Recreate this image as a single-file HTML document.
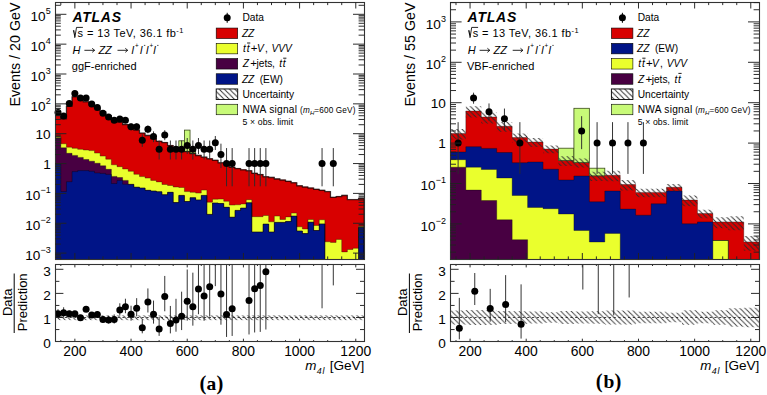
<!DOCTYPE html><html><head><meta charset="utf-8"><style>html,body{margin:0;padding:0;background:#fff;overflow:hidden}svg{display:block}text{font-family:"Liberation Sans", sans-serif;fill:#000}</style></head><body>
<svg width="767" height="395" viewBox="0 0 767 395">
<defs><pattern id="hatch" patternUnits="userSpaceOnUse" width="5.2" height="5.2"><path d="M-1.3,-1.3 L6.5,6.5 M-1.3,3.9 L1.3,6.5 M3.9,-1.3 L6.5,1.3" stroke="#2a2a2a" stroke-width="0.95"/></pattern><pattern id="hatchr" patternUnits="userSpaceOnUse" width="5.2" height="5.2"><path d="M-1.3,-1.3 L6.5,6.5 M-1.3,3.9 L1.3,6.5 M3.9,-1.3 L6.5,1.3" stroke="#383838" stroke-width="0.9"/></pattern></defs>
<rect width="767" height="395" fill="#fff"/>
<clipPath id="c55"><rect x="55.20" y="2.20" width="309.00" height="257.10"/></clipPath>
<clipPath id="c55r"><rect x="55.20" y="264.60" width="309.00" height="76.90"/></clipPath>
<g clip-path="url(#c55)">
<path d="M55.20,259.30 L55.20,114.80 L60.82,114.80 L60.82,118.50 L66.44,118.50 L66.44,106.00 L72.05,106.00 L72.05,96.50 L77.67,96.50 L77.67,98.50 L83.29,98.50 L83.29,101.50 L88.91,101.50 L88.91,104.50 L94.53,104.50 L94.53,108.00 L100.15,108.00 L100.15,111.50 L105.76,111.50 L105.76,115.50 L111.38,115.50 L111.38,118.80 L117.00,118.80 L117.00,121.80 L122.62,121.80 L122.62,124.30 L128.24,124.30 L128.24,127.00 L133.85,127.00 L133.85,129.80 L139.47,129.80 L139.47,132.90 L145.09,132.90 L145.09,135.20 L150.71,135.20 L150.71,138.20 L156.33,138.20 L156.33,141.00 L161.95,141.00 L161.95,142.30 L167.56,142.30 L167.56,145.30 L173.18,145.30 L173.18,147.20 L178.80,147.20 L178.80,149.00 L184.42,149.00 L184.42,151.30 L190.04,151.30 L190.04,153.40 L195.65,153.40 L195.65,155.20 L201.27,155.20 L201.27,156.90 L206.89,156.90 L206.89,158.50 L212.51,158.50 L212.51,160.00 L218.13,160.00 L218.13,162.60 L223.75,162.60 L223.75,164.20 L229.36,164.20 L229.36,167.00 L234.98,167.00 L234.98,168.30 L240.60,168.30 L240.60,169.60 L246.22,169.60 L246.22,170.50 L251.84,170.50 L251.84,173.00 L257.45,173.00 L257.45,174.30 L263.07,174.30 L263.07,176.50 L268.69,176.50 L268.69,177.20 L274.31,177.20 L274.31,178.70 L279.93,178.70 L279.93,179.80 L285.55,179.80 L285.55,181.00 L291.16,181.00 L291.16,182.50 L296.78,182.50 L296.78,185.60 L302.40,185.60 L302.40,186.80 L308.02,186.80 L308.02,187.80 L313.64,187.80 L313.64,189.00 L319.25,189.00 L319.25,190.00 L324.87,190.00 L324.87,191.40 L330.49,191.40 L330.49,197.10 L336.11,197.10 L336.11,196.30 L341.73,196.30 L341.73,195.20 L347.35,195.20 L347.35,199.40 L352.96,199.40 L352.96,199.40 L358.58,199.40 L358.58,198.20 L364.20,198.20 L364.20,259.30 Z" fill="#d80000"/>
<path d="M55.20,259.30 L55.20,136.30 L60.82,136.30 L60.82,143.80 L66.44,143.80 L66.44,147.20 L72.05,147.20 L72.05,148.30 L77.67,148.30 L77.67,149.30 L83.29,149.30 L83.29,150.00 L88.91,150.00 L88.91,150.60 L94.53,150.60 L94.53,153.10 L100.15,153.10 L100.15,156.10 L105.76,156.10 L105.76,159.20 L111.38,159.20 L111.38,164.80 L117.00,164.80 L117.00,166.70 L122.62,166.70 L122.62,169.00 L128.24,169.00 L128.24,171.30 L133.85,171.30 L133.85,174.30 L139.47,174.30 L139.47,176.60 L145.09,176.60 L145.09,178.10 L150.71,178.10 L150.71,180.40 L156.33,180.40 L156.33,181.90 L161.95,181.90 L161.95,184.50 L167.56,184.50 L167.56,185.50 L173.18,185.50 L173.18,187.00 L178.80,187.00 L178.80,187.50 L184.42,187.50 L184.42,191.60 L190.04,191.60 L190.04,192.30 L195.65,192.30 L195.65,193.10 L201.27,193.10 L201.27,190.10 L206.89,190.10 L206.89,202.20 L212.51,202.20 L212.51,199.20 L218.13,199.20 L218.13,199.10 L223.75,199.10 L223.75,201.30 L229.36,201.30 L229.36,205.10 L234.98,205.10 L234.98,204.80 L240.60,204.80 L240.60,204.00 L246.22,204.00 L246.22,199.70 L251.84,199.70 L251.84,216.70 L257.45,216.70 L257.45,216.70 L263.07,216.70 L263.07,215.50 L268.69,215.50 L268.69,221.80 L274.31,221.80 L274.31,216.10 L279.93,216.10 L279.93,219.50 L285.55,219.50 L285.55,216.90 L291.16,216.90 L291.16,213.10 L296.78,213.10 L296.78,226.80 L302.40,226.80 L302.40,229.00 L308.02,229.00 L308.02,219.50 L313.64,219.50 L313.64,225.50 L319.25,225.50 L319.25,219.80 L324.87,219.80 L324.87,241.80 L330.49,241.80 L330.49,242.40 L336.11,242.40 L336.11,239.40 L341.73,239.40 L341.73,251.90 L347.35,251.90 L347.35,249.50 L352.96,249.50 L352.96,248.30 L358.58,248.30 L358.58,226.30 L364.20,226.30 L364.20,259.30 Z" fill="#eaff2d"/>
<path d="M55.20,259.30 L55.20,137.70 L60.82,137.70 L60.82,147.80 L66.44,147.80 L66.44,153.30 L72.05,153.30 L72.05,155.40 L77.67,155.40 L77.67,157.40 L83.29,157.40 L83.29,159.50 L88.91,159.50 L88.91,161.20 L94.53,161.20 L94.53,163.20 L100.15,163.20 L100.15,165.80 L105.76,165.80 L105.76,169.30 L111.38,169.30 L111.38,176.40 L117.00,176.40 L117.00,177.50 L122.62,177.50 L122.62,180.40 L128.24,180.40 L128.24,184.20 L133.85,184.20 L133.85,187.20 L139.47,187.20 L139.47,188.00 L145.09,188.00 L145.09,190.30 L150.71,190.30 L150.71,191.00 L156.33,191.00 L156.33,191.80 L161.95,191.80 L161.95,194.70 L167.56,194.70 L167.56,192.30 L173.18,192.30 L173.18,202.60 L178.80,202.60 L178.80,195.40 L184.42,195.40 L184.42,201.50 L190.04,201.50 L190.04,197.70 L195.65,197.70 L195.65,199.90 L201.27,199.90 L201.27,195.40 L206.89,195.40 L206.89,214.40 L212.51,214.40 L212.51,203.00 L218.13,203.00 L218.13,203.50 L223.75,203.50 L223.75,207.30 L229.36,207.30 L229.36,217.20 L234.98,217.20 L234.98,210.40 L240.60,210.40 L240.60,208.10 L246.22,208.10 L246.22,202.80 L251.84,202.80 L251.84,232.00 L257.45,232.00 L257.45,232.00 L263.07,232.00 L263.07,224.10 L268.69,224.10 L268.69,232.00 L274.31,232.00 L274.31,222.40 L279.93,222.40 L279.93,222.40 L285.55,222.40 L285.55,221.50 L291.16,221.50 L291.16,216.10 L296.78,216.10 L296.78,231.00 L302.40,231.00 L302.40,233.60 L308.02,233.60 L308.02,222.20 L313.64,222.20 L313.64,230.50 L319.25,230.50 L319.25,223.90 L324.87,223.90 L324.87,259.30 L330.49,259.30 L330.49,259.30 L336.11,259.30 L336.11,259.30 L341.73,259.30 L341.73,259.30 L347.35,259.30 L347.35,259.30 L352.96,259.30 L352.96,259.30 L358.58,259.30 L358.58,227.50 L364.20,227.50 L364.20,259.30 Z" fill="#480042"/>
<path d="M55.20,259.30 L55.20,164.00 L60.82,164.00 L60.82,191.50 L66.44,191.50 L66.44,181.70 L72.05,181.70 L72.05,171.60 L77.67,171.60 L77.67,170.60 L83.29,170.60 L83.29,170.60 L88.91,170.60 L88.91,171.30 L94.53,171.30 L94.53,172.90 L100.15,172.90 L100.15,173.40 L105.76,173.40 L105.76,174.40 L111.38,174.40 L111.38,183.50 L117.00,183.50 L117.00,180.40 L122.62,180.40 L122.62,184.20 L128.24,184.20 L128.24,184.60 L133.85,184.60 L133.85,187.20 L139.47,187.20 L139.47,188.00 L145.09,188.00 L145.09,190.30 L150.71,190.30 L150.71,191.00 L156.33,191.00 L156.33,191.80 L161.95,191.80 L161.95,194.70 L167.56,194.70 L167.56,192.30 L173.18,192.30 L173.18,202.60 L178.80,202.60 L178.80,195.40 L184.42,195.40 L184.42,201.50 L190.04,201.50 L190.04,197.70 L195.65,197.70 L195.65,199.90 L201.27,199.90 L201.27,195.40 L206.89,195.40 L206.89,214.40 L212.51,214.40 L212.51,203.00 L218.13,203.00 L218.13,203.50 L223.75,203.50 L223.75,207.30 L229.36,207.30 L229.36,217.20 L234.98,217.20 L234.98,210.40 L240.60,210.40 L240.60,208.10 L246.22,208.10 L246.22,202.80 L251.84,202.80 L251.84,232.00 L257.45,232.00 L257.45,232.00 L263.07,232.00 L263.07,224.10 L268.69,224.10 L268.69,232.00 L274.31,232.00 L274.31,222.40 L279.93,222.40 L279.93,222.40 L285.55,222.40 L285.55,221.50 L291.16,221.50 L291.16,216.10 L296.78,216.10 L296.78,231.00 L302.40,231.00 L302.40,233.60 L308.02,233.60 L308.02,222.20 L313.64,222.20 L313.64,230.50 L319.25,230.50 L319.25,223.90 L324.87,223.90 L324.87,259.30 L330.49,259.30 L330.49,259.30 L336.11,259.30 L336.11,259.30 L341.73,259.30 L341.73,259.30 L347.35,259.30 L347.35,259.30 L352.96,259.30 L352.96,259.30 L358.58,259.30 L358.58,227.50 L364.20,227.50 L364.20,259.30 Z" fill="#001487"/>
<path d="M55.20,262.30 L55.20,114.80 L60.82,114.80 L60.82,118.50 L66.44,118.50 L66.44,106.00 L72.05,106.00 L72.05,96.50 L77.67,96.50 L77.67,98.50 L83.29,98.50 L83.29,101.50 L88.91,101.50 L88.91,104.50 L94.53,104.50 L94.53,108.00 L100.15,108.00 L100.15,111.50 L105.76,111.50 L105.76,115.50 L111.38,115.50 L111.38,118.80 L117.00,118.80 L117.00,121.80 L122.62,121.80 L122.62,124.30 L128.24,124.30 L128.24,127.00 L133.85,127.00 L133.85,129.80 L139.47,129.80 L139.47,132.90 L145.09,132.90 L145.09,135.20 L150.71,135.20 L150.71,138.20 L156.33,138.20 L156.33,141.00 L161.95,141.00 L161.95,142.30 L167.56,142.30 L167.56,145.30 L173.18,145.30 L173.18,147.20 L178.80,147.20 L178.80,149.00 L184.42,149.00 L184.42,151.30 L190.04,151.30 L190.04,153.40 L195.65,153.40 L195.65,155.20 L201.27,155.20 L201.27,156.90 L206.89,156.90 L206.89,158.50 L212.51,158.50 L212.51,160.00 L218.13,160.00 L218.13,162.60 L223.75,162.60 L223.75,164.20 L229.36,164.20 L229.36,167.00 L234.98,167.00 L234.98,168.30 L240.60,168.30 L240.60,169.60 L246.22,169.60 L246.22,170.50 L251.84,170.50 L251.84,173.00 L257.45,173.00 L257.45,174.30 L263.07,174.30 L263.07,176.50 L268.69,176.50 L268.69,177.20 L274.31,177.20 L274.31,178.70 L279.93,178.70 L279.93,179.80 L285.55,179.80 L285.55,181.00 L291.16,181.00 L291.16,182.50 L296.78,182.50 L296.78,185.60 L302.40,185.60 L302.40,186.80 L308.02,186.80 L308.02,187.80 L313.64,187.80 L313.64,189.00 L319.25,189.00 L319.25,190.00 L324.87,190.00 L324.87,191.40 L330.49,191.40 L330.49,197.10 L336.11,197.10 L336.11,196.30 L341.73,196.30 L341.73,195.20 L347.35,195.20 L347.35,199.40 L352.96,199.40 L352.96,199.40 L358.58,199.40 L358.58,198.20 L364.20,198.20 L364.20,262.30" fill="none" stroke="#000" stroke-width="0.60" stroke-opacity="0.55"/>
<path d="M55.20,262.30 L55.20,136.30 L60.82,136.30 L60.82,143.80 L66.44,143.80 L66.44,147.20 L72.05,147.20 L72.05,148.30 L77.67,148.30 L77.67,149.30 L83.29,149.30 L83.29,150.00 L88.91,150.00 L88.91,150.60 L94.53,150.60 L94.53,153.10 L100.15,153.10 L100.15,156.10 L105.76,156.10 L105.76,159.20 L111.38,159.20 L111.38,164.80 L117.00,164.80 L117.00,166.70 L122.62,166.70 L122.62,169.00 L128.24,169.00 L128.24,171.30 L133.85,171.30 L133.85,174.30 L139.47,174.30 L139.47,176.60 L145.09,176.60 L145.09,178.10 L150.71,178.10 L150.71,180.40 L156.33,180.40 L156.33,181.90 L161.95,181.90 L161.95,184.50 L167.56,184.50 L167.56,185.50 L173.18,185.50 L173.18,187.00 L178.80,187.00 L178.80,187.50 L184.42,187.50 L184.42,191.60 L190.04,191.60 L190.04,192.30 L195.65,192.30 L195.65,193.10 L201.27,193.10 L201.27,190.10 L206.89,190.10 L206.89,202.20 L212.51,202.20 L212.51,199.20 L218.13,199.20 L218.13,199.10 L223.75,199.10 L223.75,201.30 L229.36,201.30 L229.36,205.10 L234.98,205.10 L234.98,204.80 L240.60,204.80 L240.60,204.00 L246.22,204.00 L246.22,199.70 L251.84,199.70 L251.84,216.70 L257.45,216.70 L257.45,216.70 L263.07,216.70 L263.07,215.50 L268.69,215.50 L268.69,221.80 L274.31,221.80 L274.31,216.10 L279.93,216.10 L279.93,219.50 L285.55,219.50 L285.55,216.90 L291.16,216.90 L291.16,213.10 L296.78,213.10 L296.78,226.80 L302.40,226.80 L302.40,229.00 L308.02,229.00 L308.02,219.50 L313.64,219.50 L313.64,225.50 L319.25,225.50 L319.25,219.80 L324.87,219.80 L324.87,241.80 L330.49,241.80 L330.49,242.40 L336.11,242.40 L336.11,239.40 L341.73,239.40 L341.73,251.90 L347.35,251.90 L347.35,249.50 L352.96,249.50 L352.96,248.30 L358.58,248.30 L358.58,226.30 L364.20,226.30 L364.20,262.30" fill="none" stroke="#000" stroke-width="0.60" stroke-opacity="0.55"/>
<path d="M55.20,262.30 L55.20,137.70 L60.82,137.70 L60.82,147.80 L66.44,147.80 L66.44,153.30 L72.05,153.30 L72.05,155.40 L77.67,155.40 L77.67,157.40 L83.29,157.40 L83.29,159.50 L88.91,159.50 L88.91,161.20 L94.53,161.20 L94.53,163.20 L100.15,163.20 L100.15,165.80 L105.76,165.80 L105.76,169.30 L111.38,169.30 L111.38,176.40 L117.00,176.40 L117.00,177.50 L122.62,177.50 L122.62,180.40 L128.24,180.40 L128.24,184.20 L133.85,184.20 L133.85,187.20 L139.47,187.20 L139.47,188.00 L145.09,188.00 L145.09,190.30 L150.71,190.30 L150.71,191.00 L156.33,191.00 L156.33,191.80 L161.95,191.80 L161.95,194.70 L167.56,194.70 L167.56,192.30 L173.18,192.30 L173.18,202.60 L178.80,202.60 L178.80,195.40 L184.42,195.40 L184.42,201.50 L190.04,201.50 L190.04,197.70 L195.65,197.70 L195.65,199.90 L201.27,199.90 L201.27,195.40 L206.89,195.40 L206.89,214.40 L212.51,214.40 L212.51,203.00 L218.13,203.00 L218.13,203.50 L223.75,203.50 L223.75,207.30 L229.36,207.30 L229.36,217.20 L234.98,217.20 L234.98,210.40 L240.60,210.40 L240.60,208.10 L246.22,208.10 L246.22,202.80 L251.84,202.80 L251.84,232.00 L257.45,232.00 L257.45,232.00 L263.07,232.00 L263.07,224.10 L268.69,224.10 L268.69,232.00 L274.31,232.00 L274.31,222.40 L279.93,222.40 L279.93,222.40 L285.55,222.40 L285.55,221.50 L291.16,221.50 L291.16,216.10 L296.78,216.10 L296.78,231.00 L302.40,231.00 L302.40,233.60 L308.02,233.60 L308.02,222.20 L313.64,222.20 L313.64,230.50 L319.25,230.50 L319.25,223.90 L324.87,223.90 L324.87,262.30 L330.49,262.30 L330.49,262.30 L336.11,262.30 L336.11,262.30 L341.73,262.30 L341.73,262.30 L347.35,262.30 L347.35,262.30 L352.96,262.30 L352.96,262.30 L358.58,262.30 L358.58,227.50 L364.20,227.50 L364.20,262.30" fill="none" stroke="#000" stroke-width="0.60" stroke-opacity="0.55"/>
<path d="M55.20,262.30 L55.20,164.00 L60.82,164.00 L60.82,191.50 L66.44,191.50 L66.44,181.70 L72.05,181.70 L72.05,171.60 L77.67,171.60 L77.67,170.60 L83.29,170.60 L83.29,170.60 L88.91,170.60 L88.91,171.30 L94.53,171.30 L94.53,172.90 L100.15,172.90 L100.15,173.40 L105.76,173.40 L105.76,174.40 L111.38,174.40 L111.38,183.50 L117.00,183.50 L117.00,180.40 L122.62,180.40 L122.62,184.20 L128.24,184.20 L128.24,184.60 L133.85,184.60 L133.85,187.20 L139.47,187.20 L139.47,188.00 L145.09,188.00 L145.09,190.30 L150.71,190.30 L150.71,191.00 L156.33,191.00 L156.33,191.80 L161.95,191.80 L161.95,194.70 L167.56,194.70 L167.56,192.30 L173.18,192.30 L173.18,202.60 L178.80,202.60 L178.80,195.40 L184.42,195.40 L184.42,201.50 L190.04,201.50 L190.04,197.70 L195.65,197.70 L195.65,199.90 L201.27,199.90 L201.27,195.40 L206.89,195.40 L206.89,214.40 L212.51,214.40 L212.51,203.00 L218.13,203.00 L218.13,203.50 L223.75,203.50 L223.75,207.30 L229.36,207.30 L229.36,217.20 L234.98,217.20 L234.98,210.40 L240.60,210.40 L240.60,208.10 L246.22,208.10 L246.22,202.80 L251.84,202.80 L251.84,232.00 L257.45,232.00 L257.45,232.00 L263.07,232.00 L263.07,224.10 L268.69,224.10 L268.69,232.00 L274.31,232.00 L274.31,222.40 L279.93,222.40 L279.93,222.40 L285.55,222.40 L285.55,221.50 L291.16,221.50 L291.16,216.10 L296.78,216.10 L296.78,231.00 L302.40,231.00 L302.40,233.60 L308.02,233.60 L308.02,222.20 L313.64,222.20 L313.64,230.50 L319.25,230.50 L319.25,223.90 L324.87,223.90 L324.87,262.30 L330.49,262.30 L330.49,262.30 L336.11,262.30 L336.11,262.30 L341.73,262.30 L341.73,262.30 L347.35,262.30 L347.35,262.30 L352.96,262.30 L352.96,262.30 L358.58,262.30 L358.58,227.50 L364.20,227.50 L364.20,262.30" fill="none" stroke="#000" stroke-width="0.60" stroke-opacity="0.55"/>
<rect x="178.80" y="140.80" width="5.62" height="8.20" fill="#c8fa78" stroke="#3a4a1a" stroke-width="0.8"/>
<rect x="184.42" y="130.10" width="5.62" height="21.20" fill="#c8fa78" stroke="#3a4a1a" stroke-width="0.8"/>
<rect x="190.04" y="149.40" width="5.62" height="4.00" fill="#c8fa78" stroke="#3a4a1a" stroke-width="0.8"/>
<path d="M55.20,262.30 L55.20,115.10 L60.82,115.10 L60.82,118.80 L66.44,118.80 L66.44,106.30 L72.05,106.30 L72.05,96.80 L77.67,96.80 L77.67,98.80 L83.29,98.80 L83.29,101.80 L88.91,101.80 L88.91,104.80 L94.53,104.80 L94.53,108.30 L100.15,108.30 L100.15,111.80 L105.76,111.80 L105.76,115.80 L111.38,115.80 L111.38,119.10 L117.00,119.10 L117.00,122.10 L122.62,122.10 L122.62,124.60 L128.24,124.60 L128.24,127.30 L133.85,127.30 L133.85,130.10 L139.47,130.10 L139.47,133.20 L145.09,133.20 L145.09,135.50 L150.71,135.50 L150.71,138.50 L156.33,138.50 L156.33,141.30 L161.95,141.30 L161.95,142.60 L167.56,142.60 L167.56,145.60 L173.18,145.60 L173.18,147.50 L178.80,147.50 L178.80,149.30 L184.42,149.30 L184.42,151.60 L190.04,151.60 L190.04,153.70 L195.65,153.70 L195.65,155.50 L201.27,155.50 L201.27,157.20 L206.89,157.20 L206.89,158.80 L212.51,158.80 L212.51,160.30 L218.13,160.30 L218.13,162.90 L223.75,162.90 L223.75,164.50 L229.36,164.50 L229.36,167.30 L234.98,167.30 L234.98,168.60 L240.60,168.60 L240.60,169.90 L246.22,169.90 L246.22,170.80 L251.84,170.80 L251.84,173.30 L257.45,173.30 L257.45,174.60 L263.07,174.60 L263.07,176.80 L268.69,176.80 L268.69,177.50 L274.31,177.50 L274.31,179.00 L279.93,179.00 L279.93,180.10 L285.55,180.10 L285.55,181.30 L291.16,181.30 L291.16,182.80 L296.78,182.80 L296.78,185.90 L302.40,185.90 L302.40,187.10 L308.02,187.10 L308.02,188.10 L313.64,188.10 L313.64,189.30 L319.25,189.30 L319.25,190.30 L324.87,190.30 L324.87,191.70 L330.49,191.70 L330.49,197.40 L336.11,197.40 L336.11,196.60 L341.73,196.60 L341.73,195.50 L347.35,195.50 L347.35,199.70 L352.96,199.70 L352.96,199.70 L358.58,199.70 L358.58,198.50 L364.20,198.50 L364.20,262.30" fill="none" stroke="#000" stroke-width="1.3" stroke-opacity="0.6"/>
</g>
<line x1="58.01" y1="110.65" x2="58.01" y2="114.53" stroke="#2a2a2a" stroke-width="0.95"/>
<circle cx="58.01" cy="112.58" r="3.5" fill="#000"/>
<line x1="63.63" y1="113.83" x2="63.63" y2="118.31" stroke="#2a2a2a" stroke-width="0.95"/>
<circle cx="63.63" cy="116.06" r="3.5" fill="#000"/>
<line x1="69.25" y1="102.13" x2="69.25" y2="104.81" stroke="#2a2a2a" stroke-width="0.95"/>
<circle cx="69.25" cy="103.47" r="3.5" fill="#000"/>
<line x1="74.86" y1="92.50" x2="74.86" y2="94.29" stroke="#2a2a2a" stroke-width="0.95"/>
<circle cx="74.86" cy="93.40" r="3.5" fill="#000"/>
<line x1="80.48" y1="96.85" x2="80.48" y2="98.99" stroke="#2a2a2a" stroke-width="0.95"/>
<circle cx="80.48" cy="97.92" r="3.5" fill="#000"/>
<line x1="86.10" y1="96.85" x2="86.10" y2="98.99" stroke="#2a2a2a" stroke-width="0.95"/>
<circle cx="86.10" cy="97.92" r="3.5" fill="#000"/>
<line x1="91.72" y1="102.74" x2="91.72" y2="105.49" stroke="#2a2a2a" stroke-width="0.95"/>
<circle cx="91.72" cy="104.11" r="3.5" fill="#000"/>
<line x1="97.34" y1="106.00" x2="97.34" y2="109.17" stroke="#2a2a2a" stroke-width="0.95"/>
<circle cx="97.34" cy="107.58" r="3.5" fill="#000"/>
<line x1="102.95" y1="111.37" x2="102.95" y2="115.38" stroke="#2a2a2a" stroke-width="0.95"/>
<circle cx="102.95" cy="113.36" r="3.5" fill="#000"/>
<line x1="108.57" y1="114.77" x2="108.57" y2="119.45" stroke="#2a2a2a" stroke-width="0.95"/>
<circle cx="108.57" cy="117.09" r="3.5" fill="#000"/>
<line x1="114.19" y1="117.70" x2="114.19" y2="123.05" stroke="#2a2a2a" stroke-width="0.95"/>
<circle cx="114.19" cy="120.35" r="3.5" fill="#000"/>
<line x1="119.81" y1="116.52" x2="119.81" y2="121.58" stroke="#2a2a2a" stroke-width="0.95"/>
<circle cx="119.81" cy="119.03" r="3.5" fill="#000"/>
<line x1="125.43" y1="117.70" x2="125.43" y2="123.05" stroke="#2a2a2a" stroke-width="0.95"/>
<circle cx="125.43" cy="120.35" r="3.5" fill="#000"/>
<line x1="131.05" y1="123.36" x2="131.05" y2="130.38" stroke="#2a2a2a" stroke-width="0.95"/>
<circle cx="131.05" cy="126.82" r="3.5" fill="#000"/>
<line x1="136.66" y1="123.36" x2="136.66" y2="130.38" stroke="#2a2a2a" stroke-width="0.95"/>
<circle cx="136.66" cy="126.82" r="3.5" fill="#000"/>
<line x1="142.28" y1="134.25" x2="142.28" y2="146.87" stroke="#2a2a2a" stroke-width="0.95"/>
<circle cx="142.28" cy="140.32" r="3.5" fill="#000"/>
<line x1="147.90" y1="125.50" x2="147.90" y2="133.31" stroke="#2a2a2a" stroke-width="0.95"/>
<circle cx="147.90" cy="129.34" r="3.5" fill="#000"/>
<line x1="153.52" y1="131.40" x2="153.52" y2="142.10" stroke="#2a2a2a" stroke-width="0.95"/>
<circle cx="153.52" cy="136.59" r="3.5" fill="#000"/>
<line x1="159.14" y1="140.50" x2="159.14" y2="159.49" stroke="#2a2a2a" stroke-width="0.95"/>
<circle cx="159.14" cy="149.31" r="3.5" fill="#000"/>
<line x1="164.75" y1="130.19" x2="164.75" y2="140.20" stroke="#2a2a2a" stroke-width="0.95"/>
<circle cx="164.75" cy="135.07" r="3.5" fill="#000"/>
<line x1="170.37" y1="140.50" x2="170.37" y2="159.49" stroke="#2a2a2a" stroke-width="0.95"/>
<circle cx="170.37" cy="149.31" r="3.5" fill="#000"/>
<line x1="175.99" y1="140.50" x2="175.99" y2="159.49" stroke="#2a2a2a" stroke-width="0.95"/>
<circle cx="175.99" cy="149.31" r="3.5" fill="#000"/>
<line x1="181.61" y1="140.50" x2="181.61" y2="159.49" stroke="#2a2a2a" stroke-width="0.95"/>
<circle cx="181.61" cy="149.31" r="3.5" fill="#000"/>
<line x1="187.23" y1="138.03" x2="187.23" y2="154.02" stroke="#2a2a2a" stroke-width="0.95"/>
<circle cx="187.23" cy="145.58" r="3.5" fill="#000"/>
<line x1="192.85" y1="140.50" x2="192.85" y2="159.49" stroke="#2a2a2a" stroke-width="0.95"/>
<circle cx="192.85" cy="149.31" r="3.5" fill="#000"/>
<line x1="198.46" y1="138.03" x2="198.46" y2="154.02" stroke="#2a2a2a" stroke-width="0.95"/>
<circle cx="198.46" cy="145.58" r="3.5" fill="#000"/>
<line x1="204.08" y1="140.50" x2="204.08" y2="159.49" stroke="#2a2a2a" stroke-width="0.95"/>
<circle cx="204.08" cy="149.31" r="3.5" fill="#000"/>
<line x1="209.70" y1="140.50" x2="209.70" y2="159.49" stroke="#2a2a2a" stroke-width="0.95"/>
<circle cx="209.70" cy="149.31" r="3.5" fill="#000"/>
<line x1="215.32" y1="135.99" x2="215.32" y2="150.02" stroke="#2a2a2a" stroke-width="0.95"/>
<circle cx="215.32" cy="142.69" r="3.5" fill="#000"/>
<line x1="220.94" y1="143.66" x2="220.94" y2="168.02" stroke="#2a2a2a" stroke-width="0.95"/>
<circle cx="220.94" cy="154.56" r="3.5" fill="#000"/>
<line x1="226.55" y1="148.07" x2="226.55" y2="186.31" stroke="#2a2a2a" stroke-width="0.95"/>
<circle cx="226.55" cy="163.55" r="3.5" fill="#000"/>
<line x1="232.17" y1="148.07" x2="232.17" y2="186.31" stroke="#2a2a2a" stroke-width="0.95"/>
<circle cx="232.17" cy="163.55" r="3.5" fill="#000"/>
<line x1="249.03" y1="148.07" x2="249.03" y2="186.31" stroke="#2a2a2a" stroke-width="0.95"/>
<circle cx="249.03" cy="163.55" r="3.5" fill="#000"/>
<line x1="254.65" y1="148.07" x2="254.65" y2="186.31" stroke="#2a2a2a" stroke-width="0.95"/>
<circle cx="254.65" cy="163.55" r="3.5" fill="#000"/>
<line x1="260.26" y1="148.07" x2="260.26" y2="186.31" stroke="#2a2a2a" stroke-width="0.95"/>
<circle cx="260.26" cy="163.55" r="3.5" fill="#000"/>
<line x1="265.88" y1="148.07" x2="265.88" y2="186.31" stroke="#2a2a2a" stroke-width="0.95"/>
<circle cx="265.88" cy="163.55" r="3.5" fill="#000"/>
<line x1="322.06" y1="148.07" x2="322.06" y2="186.31" stroke="#2a2a2a" stroke-width="0.95"/>
<circle cx="322.06" cy="163.55" r="3.5" fill="#000"/>
<line x1="333.30" y1="148.07" x2="333.30" y2="186.31" stroke="#2a2a2a" stroke-width="0.95"/>
<circle cx="333.30" cy="163.55" r="3.5" fill="#000"/>
<rect x="55.50" y="2.50" width="309.00" height="257.00" fill="none" stroke="#333" stroke-width="1.1"/>
<path d="M55.20,257.72 h5.60 M364.20,257.72 h-5.60 M55.20,255.99 h5.60 M364.20,255.99 h-5.60 M55.20,254.47 h5.60 M364.20,254.47 h-5.60 M55.20,253.10 h11.20 M364.20,253.10 h-11.20 M55.20,244.11 h5.60 M364.20,244.11 h-5.60 M55.20,238.86 h5.60 M364.20,238.86 h-5.60 M55.20,235.13 h5.60 M364.20,235.13 h-5.60 M55.20,232.24 h5.60 M364.20,232.24 h-5.60 M55.20,229.87 h5.60 M364.20,229.87 h-5.60 M55.20,227.87 h5.60 M364.20,227.87 h-5.60 M55.20,226.14 h5.60 M364.20,226.14 h-5.60 M55.20,224.62 h5.60 M364.20,224.62 h-5.60 M55.20,223.25 h11.20 M364.20,223.25 h-11.20 M55.20,214.26 h5.60 M364.20,214.26 h-5.60 M55.20,209.01 h5.60 M364.20,209.01 h-5.60 M55.20,205.28 h5.60 M364.20,205.28 h-5.60 M55.20,202.39 h5.60 M364.20,202.39 h-5.60 M55.20,200.02 h5.60 M364.20,200.02 h-5.60 M55.20,198.02 h5.60 M364.20,198.02 h-5.60 M55.20,196.29 h5.60 M364.20,196.29 h-5.60 M55.20,194.77 h5.60 M364.20,194.77 h-5.60 M55.20,193.40 h11.20 M364.20,193.40 h-11.20 M55.20,184.41 h5.60 M364.20,184.41 h-5.60 M55.20,179.16 h5.60 M364.20,179.16 h-5.60 M55.20,175.43 h5.60 M364.20,175.43 h-5.60 M55.20,172.54 h5.60 M364.20,172.54 h-5.60 M55.20,170.17 h5.60 M364.20,170.17 h-5.60 M55.20,168.17 h5.60 M364.20,168.17 h-5.60 M55.20,166.44 h5.60 M364.20,166.44 h-5.60 M55.20,164.92 h5.60 M364.20,164.92 h-5.60 M55.20,163.55 h11.20 M364.20,163.55 h-11.20 M55.20,154.56 h5.60 M364.20,154.56 h-5.60 M55.20,149.31 h5.60 M364.20,149.31 h-5.60 M55.20,145.58 h5.60 M364.20,145.58 h-5.60 M55.20,142.69 h5.60 M364.20,142.69 h-5.60 M55.20,140.32 h5.60 M364.20,140.32 h-5.60 M55.20,138.32 h5.60 M364.20,138.32 h-5.60 M55.20,136.59 h5.60 M364.20,136.59 h-5.60 M55.20,135.07 h5.60 M364.20,135.07 h-5.60 M55.20,133.70 h11.20 M364.20,133.70 h-11.20 M55.20,124.71 h5.60 M364.20,124.71 h-5.60 M55.20,119.46 h5.60 M364.20,119.46 h-5.60 M55.20,115.73 h5.60 M364.20,115.73 h-5.60 M55.20,112.84 h5.60 M364.20,112.84 h-5.60 M55.20,110.47 h5.60 M364.20,110.47 h-5.60 M55.20,108.47 h5.60 M364.20,108.47 h-5.60 M55.20,106.74 h5.60 M364.20,106.74 h-5.60 M55.20,105.22 h5.60 M364.20,105.22 h-5.60 M55.20,103.85 h11.20 M364.20,103.85 h-11.20 M55.20,94.86 h5.60 M364.20,94.86 h-5.60 M55.20,89.61 h5.60 M364.20,89.61 h-5.60 M55.20,85.88 h5.60 M364.20,85.88 h-5.60 M55.20,82.99 h5.60 M364.20,82.99 h-5.60 M55.20,80.62 h5.60 M364.20,80.62 h-5.60 M55.20,78.62 h5.60 M364.20,78.62 h-5.60 M55.20,76.89 h5.60 M364.20,76.89 h-5.60 M55.20,75.37 h5.60 M364.20,75.37 h-5.60 M55.20,74.00 h11.20 M364.20,74.00 h-11.20 M55.20,65.01 h5.60 M364.20,65.01 h-5.60 M55.20,59.76 h5.60 M364.20,59.76 h-5.60 M55.20,56.03 h5.60 M364.20,56.03 h-5.60 M55.20,53.14 h5.60 M364.20,53.14 h-5.60 M55.20,50.77 h5.60 M364.20,50.77 h-5.60 M55.20,48.77 h5.60 M364.20,48.77 h-5.60 M55.20,47.04 h5.60 M364.20,47.04 h-5.60 M55.20,45.52 h5.60 M364.20,45.52 h-5.60 M55.20,44.15 h11.20 M364.20,44.15 h-11.20 M55.20,35.16 h5.60 M364.20,35.16 h-5.60 M55.20,29.91 h5.60 M364.20,29.91 h-5.60 M55.20,26.18 h5.60 M364.20,26.18 h-5.60 M55.20,23.29 h5.60 M364.20,23.29 h-5.60 M55.20,20.92 h5.60 M364.20,20.92 h-5.60 M55.20,18.92 h5.60 M364.20,18.92 h-5.60 M55.20,17.19 h5.60 M364.20,17.19 h-5.60 M55.20,15.67 h5.60 M364.20,15.67 h-5.60 M55.20,14.30 h11.20 M364.20,14.30 h-11.20 M55.20,5.31 h5.60 M364.20,5.31 h-5.60 M60.82,2.20 v2.90 M60.82,259.30 v-2.90 M60.82,264.60 v1.40 M60.82,341.50 v-1.40 M74.86,2.20 v6.30 M74.86,259.30 v-6.30 M74.86,264.60 v2.80 M74.86,341.50 v-2.80 M88.91,2.20 v2.90 M88.91,259.30 v-2.90 M88.91,264.60 v1.40 M88.91,341.50 v-1.40 M102.95,2.20 v2.90 M102.95,259.30 v-2.90 M102.95,264.60 v1.40 M102.95,341.50 v-1.40 M117.00,2.20 v2.90 M117.00,259.30 v-2.90 M117.00,264.60 v1.40 M117.00,341.50 v-1.40 M131.05,2.20 v6.30 M131.05,259.30 v-6.30 M131.05,264.60 v2.80 M131.05,341.50 v-2.80 M145.09,2.20 v2.90 M145.09,259.30 v-2.90 M145.09,264.60 v1.40 M145.09,341.50 v-1.40 M159.14,2.20 v2.90 M159.14,259.30 v-2.90 M159.14,264.60 v1.40 M159.14,341.50 v-1.40 M173.18,2.20 v2.90 M173.18,259.30 v-2.90 M173.18,264.60 v1.40 M173.18,341.50 v-1.40 M187.23,2.20 v6.30 M187.23,259.30 v-6.30 M187.23,264.60 v2.80 M187.23,341.50 v-2.80 M201.27,2.20 v2.90 M201.27,259.30 v-2.90 M201.27,264.60 v1.40 M201.27,341.50 v-1.40 M215.32,2.20 v2.90 M215.32,259.30 v-2.90 M215.32,264.60 v1.40 M215.32,341.50 v-1.40 M229.36,2.20 v2.90 M229.36,259.30 v-2.90 M229.36,264.60 v1.40 M229.36,341.50 v-1.40 M243.41,2.20 v6.30 M243.41,259.30 v-6.30 M243.41,264.60 v2.80 M243.41,341.50 v-2.80 M257.45,2.20 v2.90 M257.45,259.30 v-2.90 M257.45,264.60 v1.40 M257.45,341.50 v-1.40 M271.50,2.20 v2.90 M271.50,259.30 v-2.90 M271.50,264.60 v1.40 M271.50,341.50 v-1.40 M285.55,2.20 v2.90 M285.55,259.30 v-2.90 M285.55,264.60 v1.40 M285.55,341.50 v-1.40 M299.59,2.20 v6.30 M299.59,259.30 v-6.30 M299.59,264.60 v2.80 M299.59,341.50 v-2.80 M313.64,2.20 v2.90 M313.64,259.30 v-2.90 M313.64,264.60 v1.40 M313.64,341.50 v-1.40 M327.68,2.20 v2.90 M327.68,259.30 v-2.90 M327.68,264.60 v1.40 M327.68,341.50 v-1.40 M341.73,2.20 v2.90 M341.73,259.30 v-2.90 M341.73,264.60 v1.40 M341.73,341.50 v-1.40 M355.77,2.20 v6.30 M355.77,259.30 v-6.30 M355.77,264.60 v2.80 M355.77,341.50 v-2.80 M55.20,329.55 h4.20 M364.20,329.55 h-4.20 M55.20,317.50 h8.20 M364.20,317.50 h-8.20 M55.20,305.45 h4.20 M364.20,305.45 h-4.20 M55.20,293.40 h8.20 M364.20,293.40 h-8.20 M55.20,281.35 h4.20 M364.20,281.35 h-4.20 M55.20,269.30 h8.20 M364.20,269.30 h-8.20" stroke="#222" stroke-width="0.95" fill="none"/>
<g clip-path="url(#c55r)">
<rect x="55.20" y="315.33" width="309.00" height="4.82" fill="url(#hatchr)"/>
<line x1="55.20" y1="317.50" x2="364.20" y2="317.50" stroke="#222" stroke-width="0.85" stroke-dasharray="2.2,2.6"/>
<line x1="58.01" y1="309.16" x2="58.01" y2="317.55" stroke="#2a2a2a" stroke-width="0.95"/>
<circle cx="58.01" cy="313.64" r="3.5" fill="#000"/>
<line x1="63.63" y1="307.27" x2="63.63" y2="317.29" stroke="#2a2a2a" stroke-width="0.95"/>
<circle cx="63.63" cy="312.68" r="3.5" fill="#000"/>
<line x1="69.25" y1="310.61" x2="69.25" y2="316.39" stroke="#2a2a2a" stroke-width="0.95"/>
<circle cx="69.25" cy="313.64" r="3.5" fill="#000"/>
<line x1="74.86" y1="311.65" x2="74.86" y2="315.51" stroke="#2a2a2a" stroke-width="0.95"/>
<circle cx="74.86" cy="313.64" r="3.5" fill="#000"/>
<line x1="80.48" y1="315.69" x2="80.48" y2="319.64" stroke="#2a2a2a" stroke-width="0.95"/>
<circle cx="80.48" cy="317.74" r="3.5" fill="#000"/>
<line x1="86.10" y1="306.53" x2="86.10" y2="311.87" stroke="#2a2a2a" stroke-width="0.95"/>
<circle cx="86.10" cy="309.31" r="3.5" fill="#000"/>
<line x1="91.72" y1="312.13" x2="91.72" y2="317.76" stroke="#2a2a2a" stroke-width="0.95"/>
<circle cx="91.72" cy="315.09" r="3.5" fill="#000"/>
<line x1="97.34" y1="311.12" x2="97.34" y2="317.72" stroke="#2a2a2a" stroke-width="0.95"/>
<circle cx="97.34" cy="314.61" r="3.5" fill="#000"/>
<line x1="102.95" y1="315.74" x2="102.95" y2="322.62" stroke="#2a2a2a" stroke-width="0.95"/>
<circle cx="102.95" cy="319.43" r="3.5" fill="#000"/>
<line x1="108.57" y1="315.66" x2="108.57" y2="323.51" stroke="#2a2a2a" stroke-width="0.95"/>
<circle cx="108.57" cy="319.91" r="3.5" fill="#000"/>
<line x1="114.19" y1="314.40" x2="114.19" y2="323.59" stroke="#2a2a2a" stroke-width="0.95"/>
<circle cx="114.19" cy="319.43" r="3.5" fill="#000"/>
<line x1="119.81" y1="303.28" x2="119.81" y2="315.67" stroke="#2a2a2a" stroke-width="0.95"/>
<circle cx="119.81" cy="310.03" r="3.5" fill="#000"/>
<line x1="125.43" y1="298.72" x2="125.43" y2="313.22" stroke="#2a2a2a" stroke-width="0.95"/>
<circle cx="125.43" cy="306.66" r="3.5" fill="#000"/>
<line x1="131.05" y1="305.72" x2="131.05" y2="320.72" stroke="#2a2a2a" stroke-width="0.95"/>
<circle cx="131.05" cy="314.13" r="3.5" fill="#000"/>
<line x1="136.66" y1="298.16" x2="136.66" y2="316.33" stroke="#2a2a2a" stroke-width="0.95"/>
<circle cx="136.66" cy="308.34" r="3.5" fill="#000"/>
<line x1="142.28" y1="319.66" x2="142.28" y2="333.31" stroke="#2a2a2a" stroke-width="0.95"/>
<circle cx="142.28" cy="327.86" r="3.5" fill="#000"/>
<line x1="147.90" y1="288.44" x2="147.90" y2="312.51" stroke="#2a2a2a" stroke-width="0.95"/>
<circle cx="147.90" cy="302.08" r="3.5" fill="#000"/>
<line x1="153.52" y1="300.58" x2="153.52" y2="323.63" stroke="#2a2a2a" stroke-width="0.95"/>
<circle cx="153.52" cy="314.13" r="3.5" fill="#000"/>
<line x1="159.14" y1="316.88" x2="159.14" y2="335.89" stroke="#2a2a2a" stroke-width="0.95"/>
<circle cx="159.14" cy="329.07" r="3.5" fill="#000"/>
<line x1="164.75" y1="275.95" x2="164.75" y2="311.27" stroke="#2a2a2a" stroke-width="0.95"/>
<circle cx="164.75" cy="296.53" r="3.5" fill="#000"/>
<line x1="170.37" y1="305.94" x2="170.37" y2="333.36" stroke="#2a2a2a" stroke-width="0.95"/>
<circle cx="170.37" cy="323.53" r="3.5" fill="#000"/>
<line x1="175.99" y1="298.81" x2="175.99" y2="331.71" stroke="#2a2a2a" stroke-width="0.95"/>
<circle cx="175.99" cy="319.91" r="3.5" fill="#000"/>
<line x1="181.61" y1="291.68" x2="181.61" y2="330.07" stroke="#2a2a2a" stroke-width="0.95"/>
<circle cx="181.61" cy="316.30" r="3.5" fill="#000"/>
<line x1="187.23" y1="269.53" x2="187.23" y2="320.61" stroke="#2a2a2a" stroke-width="0.95"/>
<circle cx="187.23" cy="301.35" r="3.5" fill="#000"/>
<line x1="192.85" y1="272.66" x2="192.85" y2="325.67" stroke="#2a2a2a" stroke-width="0.95"/>
<circle cx="192.85" cy="306.66" r="3.5" fill="#000"/>
<line x1="198.46" y1="247.52" x2="198.46" y2="314.21" stroke="#2a2a2a" stroke-width="0.95"/>
<circle cx="198.46" cy="289.06" r="3.5" fill="#000"/>
<line x1="204.08" y1="251.74" x2="204.08" y2="320.84" stroke="#2a2a2a" stroke-width="0.95"/>
<circle cx="204.08" cy="296.05" r="3.5" fill="#000"/>
<line x1="209.70" y1="233.20" x2="209.70" y2="316.56" stroke="#2a2a2a" stroke-width="0.95"/>
<circle cx="209.70" cy="286.65" r="3.5" fill="#000"/>
<line x1="215.32" y1="177.97" x2="215.32" y2="286.15" stroke="#2a2a2a" stroke-width="0.95"/>
<circle cx="215.32" cy="244.00" r="3.5" fill="#000"/>
<line x1="220.94" y1="230.95" x2="220.94" y2="324.70" stroke="#2a2a2a" stroke-width="0.95"/>
<circle cx="220.94" cy="293.88" r="3.5" fill="#000"/>
<line x1="226.55" y1="252.54" x2="226.55" y2="336.94" stroke="#2a2a2a" stroke-width="0.95"/>
<circle cx="226.55" cy="314.61" r="3.5" fill="#000"/>
<line x1="232.17" y1="233.45" x2="232.17" y2="335.94" stroke="#2a2a2a" stroke-width="0.95"/>
<circle cx="232.17" cy="308.82" r="3.5" fill="#000"/>
<line x1="249.03" y1="205.62" x2="249.03" y2="334.48" stroke="#2a2a2a" stroke-width="0.95"/>
<circle cx="249.03" cy="300.39" r="3.5" fill="#000"/>
<line x1="254.65" y1="167.45" x2="254.65" y2="332.48" stroke="#2a2a2a" stroke-width="0.95"/>
<circle cx="254.65" cy="288.82" r="3.5" fill="#000"/>
<line x1="260.26" y1="156.32" x2="260.26" y2="331.90" stroke="#2a2a2a" stroke-width="0.95"/>
<circle cx="260.26" cy="285.45" r="3.5" fill="#000"/>
<line x1="265.88" y1="111.00" x2="265.88" y2="329.53" stroke="#2a2a2a" stroke-width="0.95"/>
<circle cx="265.88" cy="271.71" r="3.5" fill="#000"/>
<line x1="322.06" y1="-294.55" x2="322.06" y2="308.29" stroke="#2a2a2a" stroke-width="0.95"/>
<circle cx="322.06" cy="148.80" r="3.5" fill="#000"/>
<line x1="333.30" y1="-731.90" x2="333.30" y2="285.39" stroke="#2a2a2a" stroke-width="0.95"/>
<circle cx="333.30" cy="16.25" r="3.5" fill="#000"/>
</g>
<rect x="55.50" y="264.50" width="309.00" height="77.00" fill="none" stroke="#333" stroke-width="1.1"/>
<text x="50.70" y="21.10" text-anchor="end" font-size="13.6">10<tspan font-size="9" dy="-7">5</tspan></text>
<text x="50.70" y="50.95" text-anchor="end" font-size="13.6">10<tspan font-size="9" dy="-7">4</tspan></text>
<text x="50.70" y="80.80" text-anchor="end" font-size="13.6">10<tspan font-size="9" dy="-7">3</tspan></text>
<text x="50.70" y="110.65" text-anchor="end" font-size="13.6">10<tspan font-size="9" dy="-7">2</tspan></text>
<text x="50.70" y="138.80" text-anchor="end" font-size="13.6">10</text>
<text x="50.70" y="168.65" text-anchor="end" font-size="13.6">1</text>
<text x="50.70" y="200.20" text-anchor="end" font-size="13.6">10<tspan font-size="9" dy="-7">−1</tspan></text>
<text x="50.70" y="230.05" text-anchor="end" font-size="13.6">10<tspan font-size="9" dy="-7">−2</tspan></text>
<text x="50.70" y="259.90" text-anchor="end" font-size="13.6">10<tspan font-size="9" dy="-7">−3</tspan></text>
<text x="50.70" y="348.10" text-anchor="end" font-size="13.6">0</text>
<text x="50.70" y="324.00" text-anchor="end" font-size="13.6">1</text>
<text x="50.70" y="299.90" text-anchor="end" font-size="13.6">2</text>
<text x="50.70" y="275.80" text-anchor="end" font-size="13.6">3</text>
<text x="74.86" y="356.00" text-anchor="middle" font-size="13.9">200</text>
<text x="131.05" y="356.00" text-anchor="middle" font-size="13.9">400</text>
<text x="187.23" y="356.00" text-anchor="middle" font-size="13.9">600</text>
<text x="243.41" y="356.00" text-anchor="middle" font-size="13.9">800</text>
<text x="299.59" y="356.00" text-anchor="middle" font-size="13.9">1000</text>
<text x="355.77" y="356.00" text-anchor="middle" font-size="13.9">1200</text>
<text x="305.20" y="370.2" font-size="13.4" font-style="italic">m</text>
<text x="316.80" y="374.3" font-size="8.8" font-style="italic" letter-spacing="0.9">4l</text>
<text x="364.40" y="370.4" text-anchor="end" font-size="13.6">[GeV]</text>
<text transform="translate(19.60,2.5) rotate(-90)" text-anchor="end" font-size="14.3">Events / 20 GeV</text>
<text transform="translate(11.60,302.3) rotate(-90)" text-anchor="middle" font-size="13">Data</text>
<line x1="14.20" y1="273.5" x2="14.20" y2="333" stroke="#000" stroke-width="1"/>
<text transform="translate(27.20,302.3) rotate(-90)" text-anchor="middle" font-size="13">Prediction</text>
<text x="72.40" y="21.6" font-size="14" font-weight="bold" font-style="italic" letter-spacing="0.75">ATLAS</text>
<text x="77.50" y="37.3" font-size="11" letter-spacing="0.42">s = 13 TeV, 36.1 fb<tspan font-size="7.5" dy="-4.5">-1</tspan></text>
<path d="M72.90,30.3 L74.30,30.3 L75.20,36.4 L74.70,37.9 Z" fill="#000"/>
<path d="M74.80,37.8 L76.50,27.4 L82.90,27.4" fill="none" stroke="#000" stroke-width="0.85"/>
<text x="72.50" y="53.6" font-size="11" font-style="italic">H</text>
<text x="98.40" y="53.6" font-size="11" font-style="italic">ZZ</text>
<path d="M84.40,50.3 h10.2 M92.20,48.3 l2.4,2 l-2.4,2" stroke="#000" stroke-width="0.85" fill="none"/>
<path d="M117.50,50.3 h10.2 M125.30,48.3 l2.4,2 l-2.4,2" stroke="#000" stroke-width="0.85" fill="none"/>
<text x="131.60" y="53.6" font-size="11" font-style="italic">l</text>
<text x="135.00" y="48.0" font-size="6.3">+</text>
<text x="140.00" y="53.6" font-size="11" font-style="italic">l</text>
<line x1="143.90" y1="45.4" x2="145.30" y2="45.4" stroke="#000" stroke-width="0.7"/>
<text x="146.00" y="53.6" font-size="11" font-style="italic">l</text>
<text x="149.40" y="48.0" font-size="6.3">+</text>
<text x="153.20" y="53.6" font-size="11" font-style="italic">l</text>
<line x1="157.10" y1="45.4" x2="158.50" y2="45.4" stroke="#000" stroke-width="0.7"/>
<text x="71.80" y="69.7" font-size="11">ggF-enriched</text>
<line x1="227.20" y1="12.80" x2="227.20" y2="22.80" stroke="#000" stroke-width="1"/>
<circle cx="227.20" cy="17.80" r="3.5" fill="#000"/>
<text x="242.50" y="21.40" font-size="10.2">Data</text>
<rect x="216.20" y="28.05" width="21.5" height="10.5" fill="#d80000" stroke="#000" stroke-width="0.6"/>
<text x="241.90" y="36.90" font-size="10.2" font-style="italic">ZZ</text>
<rect x="216.20" y="43.35" width="21.5" height="10.5" fill="#eaff2d" stroke="#000" stroke-width="0.6"/>
<text x="243.10" y="52.20" font-size="10.2" font-style="italic">t</text><text x="246.70" y="52.20" font-size="10.2" font-style="italic">t</text><line x1="247.10" y1="43.00" x2="250.30" y2="43.00" stroke="#000" stroke-width="0.9"/><text x="250.70" y="52.20" font-size="10.2"><tspan font-size="11.5">+</tspan></text><text x="256.90" y="52.20" font-size="10.2" font-style="italic">V</text><text x="264.90" y="52.20" font-size="10.2">,</text><text x="271.50" y="52.20" font-size="10.2" font-style="italic">VVV</text>
<rect x="216.20" y="58.55" width="21.5" height="10.5" fill="#480042" stroke="#000" stroke-width="0.6"/>
<text x="242.70" y="67.40" font-size="10.2" font-style="italic">Z</text><text x="250.30" y="67.40" font-size="10.2"><tspan font-size="11.5">+</tspan></text><text x="256.50" y="67.40" font-size="10.2">jets</text><text x="272.10" y="67.40" font-size="10.2">,</text><text x="279.30" y="67.40" font-size="10.2" font-style="italic">t</text><text x="282.80" y="67.40" font-size="10.2" font-style="italic">t</text><line x1="283.20" y1="58.20" x2="286.40" y2="58.20" stroke="#000" stroke-width="0.9"/>
<rect x="216.20" y="73.75" width="21.5" height="10.5" fill="#001487" stroke="#000" stroke-width="0.6"/>
<text x="241.90" y="82.60" font-size="10.2" font-style="italic">ZZ</text><text x="259.70" y="82.60" font-size="10.2">(EW)</text>
<rect x="216.20" y="88.95" width="21.5" height="10.5" fill="url(#hatch)" stroke="#000" stroke-width="0.9"/>
<text x="242.50" y="97.80" font-size="10.2">Uncertainty</text>
<rect x="216.20" y="104.25" width="21.5" height="10.5" fill="#c8fa78" stroke="#000" stroke-width="0.6"/>
<text x="242.50" y="113.10" font-size="10.2" letter-spacing="0.25">NWA signal</text><text x="300.00" y="113.10" font-size="8.2" letter-spacing="0.15">(<tspan font-style="italic">m</tspan><tspan font-size="6" dy="2" font-style="italic">H</tspan><tspan dy="-2">=600 GeV)</tspan></text>
<text x="242.50" y="125.1" font-size="8.7" letter-spacing="0.12">5 × obs. limit</text>
<text x="199.40" y="390.30" style="font-family:'Liberation Serif',serif;font-weight:bold" font-size="20.6">(</text>
<text x="206.40" y="390.30" style="font-family:'Liberation Serif',serif;font-weight:bold" font-size="19.5">a</text>
<text x="216.60" y="390.30" style="font-family:'Liberation Serif',serif;font-weight:bold" font-size="20.6">)</text>
<clipPath id="c450"><rect x="450.40" y="2.20" width="308.80" height="257.10"/></clipPath>
<clipPath id="c450r"><rect x="450.40" y="264.60" width="308.80" height="76.90"/></clipPath>
<g clip-path="url(#c450)">
<path d="M450.40,259.30 L450.40,133.50 L465.84,133.50 L465.84,111.00 L481.28,111.00 L481.28,117.00 L496.72,117.00 L496.72,126.30 L512.16,126.30 L512.16,137.50 L527.60,137.50 L527.60,142.00 L543.04,142.00 L543.04,149.00 L558.48,149.00 L558.48,160.40 L573.92,160.40 L573.92,162.50 L589.36,162.50 L589.36,175.80 L604.80,175.80 L604.80,175.20 L620.24,175.20 L620.24,184.50 L635.68,184.50 L635.68,192.40 L651.12,192.40 L651.12,192.40 L666.56,192.40 L666.56,187.30 L682.00,187.30 L682.00,200.10 L697.44,200.10 L697.44,213.50 L712.88,213.50 L712.88,221.90 L728.32,221.90 L728.32,221.90 L743.76,221.90 L743.76,241.90 L759.20,241.90 L759.20,259.30 Z" fill="#d80000"/>
<path d="M450.40,259.30 L450.40,152.00 L465.84,152.00 L465.84,146.70 L481.28,146.70 L481.28,148.40 L496.72,148.40 L496.72,152.50 L512.16,152.50 L512.16,162.70 L527.60,162.70 L527.60,162.00 L543.04,162.00 L543.04,169.20 L558.48,169.20 L558.48,180.00 L573.92,180.00 L573.92,176.00 L589.36,176.00 L589.36,201.80 L604.80,201.80 L604.80,191.00 L620.24,191.00 L620.24,209.10 L635.68,209.10 L635.68,215.20 L651.12,215.20 L651.12,203.80 L666.56,203.80 L666.56,191.00 L682.00,191.00 L682.00,223.80 L697.44,223.80 L697.44,221.90 L712.88,221.90 L712.88,240.50 L728.32,240.50 L728.32,259.30 L743.76,259.30 L743.76,259.30 L759.20,259.30 L759.20,259.30 Z" fill="#001487"/>
<path d="M450.40,259.30 L450.40,159.70 L465.84,159.70 L465.84,167.20 L481.28,167.20 L481.28,169.50 L496.72,169.50 L496.72,178.00 L512.16,178.00 L512.16,195.50 L527.60,195.50 L527.60,207.50 L543.04,207.50 L543.04,208.70 L558.48,208.70 L558.48,214.00 L573.92,214.00 L573.92,230.50 L589.36,230.50 L589.36,242.00 L604.80,242.00 L604.80,233.40 L620.24,233.40 L620.24,259.30 L635.68,259.30 L635.68,259.30 L651.12,259.30 L651.12,259.30 L666.56,259.30 L666.56,259.30 L682.00,259.30 L682.00,259.30 L697.44,259.30 L697.44,259.30 L712.88,259.30 L712.88,240.50 L728.32,240.50 L728.32,259.30 L743.76,259.30 L743.76,259.30 L759.20,259.30 L759.20,259.30 Z" fill="#eaff2d"/>
<path d="M450.40,259.30 L450.40,167.20 L465.84,167.20 L465.84,190.10 L481.28,190.10 L481.28,200.50 L496.72,200.50 L496.72,219.80 L512.16,219.80 L512.16,239.70 L527.60,239.70 L527.60,259.30 L543.04,259.30 L543.04,259.30 L558.48,259.30 L558.48,259.30 L573.92,259.30 L573.92,259.30 L589.36,259.30 L589.36,259.30 L604.80,259.30 L604.80,259.30 L620.24,259.30 L620.24,259.30 L635.68,259.30 L635.68,259.30 L651.12,259.30 L651.12,259.30 L666.56,259.30 L666.56,259.30 L682.00,259.30 L682.00,259.30 L697.44,259.30 L697.44,259.30 L712.88,259.30 L712.88,259.30 L728.32,259.30 L728.32,259.30 L743.76,259.30 L743.76,259.30 L759.20,259.30 L759.20,259.30 Z" fill="#480042"/>
<path d="M450.40,262.30 L450.40,133.50 L465.84,133.50 L465.84,111.00 L481.28,111.00 L481.28,117.00 L496.72,117.00 L496.72,126.30 L512.16,126.30 L512.16,137.50 L527.60,137.50 L527.60,142.00 L543.04,142.00 L543.04,149.00 L558.48,149.00 L558.48,160.40 L573.92,160.40 L573.92,162.50 L589.36,162.50 L589.36,175.80 L604.80,175.80 L604.80,175.20 L620.24,175.20 L620.24,184.50 L635.68,184.50 L635.68,192.40 L651.12,192.40 L651.12,192.40 L666.56,192.40 L666.56,187.30 L682.00,187.30 L682.00,200.10 L697.44,200.10 L697.44,213.50 L712.88,213.50 L712.88,221.90 L728.32,221.90 L728.32,221.90 L743.76,221.90 L743.76,241.90 L759.20,241.90 L759.20,262.30" fill="none" stroke="#000" stroke-width="0.60" stroke-opacity="0.55"/>
<path d="M450.40,262.30 L450.40,152.00 L465.84,152.00 L465.84,146.70 L481.28,146.70 L481.28,148.40 L496.72,148.40 L496.72,152.50 L512.16,152.50 L512.16,162.70 L527.60,162.70 L527.60,162.00 L543.04,162.00 L543.04,169.20 L558.48,169.20 L558.48,180.00 L573.92,180.00 L573.92,176.00 L589.36,176.00 L589.36,201.80 L604.80,201.80 L604.80,191.00 L620.24,191.00 L620.24,209.10 L635.68,209.10 L635.68,215.20 L651.12,215.20 L651.12,203.80 L666.56,203.80 L666.56,191.00 L682.00,191.00 L682.00,223.80 L697.44,223.80 L697.44,221.90 L712.88,221.90 L712.88,240.50 L728.32,240.50 L728.32,262.30 L743.76,262.30 L743.76,262.30 L759.20,262.30 L759.20,262.30" fill="none" stroke="#000" stroke-width="0.60" stroke-opacity="0.55"/>
<path d="M450.40,262.30 L450.40,159.70 L465.84,159.70 L465.84,167.20 L481.28,167.20 L481.28,169.50 L496.72,169.50 L496.72,178.00 L512.16,178.00 L512.16,195.50 L527.60,195.50 L527.60,207.50 L543.04,207.50 L543.04,208.70 L558.48,208.70 L558.48,214.00 L573.92,214.00 L573.92,230.50 L589.36,230.50 L589.36,242.00 L604.80,242.00 L604.80,233.40 L620.24,233.40 L620.24,262.30 L635.68,262.30 L635.68,262.30 L651.12,262.30 L651.12,262.30 L666.56,262.30 L666.56,262.30 L682.00,262.30 L682.00,262.30 L697.44,262.30 L697.44,262.30 L712.88,262.30 L712.88,240.50 L728.32,240.50 L728.32,262.30 L743.76,262.30 L743.76,262.30 L759.20,262.30 L759.20,262.30" fill="none" stroke="#000" stroke-width="0.60" stroke-opacity="0.55"/>
<path d="M450.40,262.30 L450.40,167.20 L465.84,167.20 L465.84,190.10 L481.28,190.10 L481.28,200.50 L496.72,200.50 L496.72,219.80 L512.16,219.80 L512.16,239.70 L527.60,239.70 L527.60,262.30 L543.04,262.30 L543.04,262.30 L558.48,262.30 L558.48,262.30 L573.92,262.30 L573.92,262.30 L589.36,262.30 L589.36,262.30 L604.80,262.30 L604.80,262.30 L620.24,262.30 L620.24,262.30 L635.68,262.30 L635.68,262.30 L651.12,262.30 L651.12,262.30 L666.56,262.30 L666.56,262.30 L682.00,262.30 L682.00,262.30 L697.44,262.30 L697.44,262.30 L712.88,262.30 L712.88,262.30 L728.32,262.30 L728.32,262.30 L743.76,262.30 L743.76,262.30 L759.20,262.30 L759.20,262.30" fill="none" stroke="#000" stroke-width="0.60" stroke-opacity="0.55"/>
<rect x="558.48" y="148.20" width="15.44" height="12.20" fill="#c8fa78" stroke="#3a4a1a" stroke-width="0.8"/>
<rect x="573.92" y="108.30" width="15.44" height="54.20" fill="#c8fa78" stroke="#3a4a1a" stroke-width="0.8"/>
<rect x="589.36" y="168.20" width="15.44" height="7.60" fill="#c8fa78" stroke="#3a4a1a" stroke-width="0.8"/>
<path d="M450.40,129.03 L465.84,129.03 L465.84,106.26 L481.28,106.26 L481.28,112.26 L496.72,112.26 L496.72,122.11 L512.16,122.11 L512.16,133.45 L527.60,133.45 L527.60,138.08 L543.04,138.08 L543.04,145.51 L558.48,145.51 L558.48,156.21 L573.92,156.21 L573.92,158.58 L589.36,158.58 L589.36,171.75 L604.80,171.75 L604.80,170.73 L620.24,170.73 L620.24,180.03 L635.68,180.03 L635.68,188.63 L651.12,188.63 L651.12,188.63 L666.56,188.63 L666.56,184.10 L682.00,184.10 L682.00,195.50 L697.44,195.50 L697.44,209.73 L712.88,209.73 L712.88,217.30 L728.32,217.30 L728.32,216.25 L743.76,216.25 L743.76,236.00 L759.20,236.00 L759.20,250.86 L743.76,250.86 L743.76,230.29 L728.32,230.29 L728.32,228.16 L712.88,228.16 L712.88,218.32 L697.44,218.32 L697.44,206.36 L682.00,206.36 L682.00,191.22 L666.56,191.22 L666.56,197.22 L651.12,197.22 L651.12,197.22 L635.68,197.22 L635.68,190.51 L620.24,190.51 L620.24,181.21 L604.80,181.21 L604.80,181.08 L589.36,181.08 L589.36,167.55 L573.92,167.55 L573.92,165.92 L558.48,165.92 L558.48,153.36 L543.04,153.36 L543.04,147.05 L527.60,147.05 L527.60,142.78 L512.16,142.78 L512.16,131.82 L496.72,131.82 L496.72,123.51 L481.28,123.51 L481.28,117.51 L465.84,117.51 L465.84,139.51 L450.40,139.51 Z" fill="url(#hatch)"/>
</g>
<line x1="458.12" y1="122.15" x2="458.12" y2="173.91" stroke="#2a2a2a" stroke-width="0.95"/>
<circle cx="458.12" cy="143.10" r="3.5" fill="#000"/>
<line x1="473.56" y1="92.68" x2="473.56" y2="103.71" stroke="#2a2a2a" stroke-width="0.95"/>
<circle cx="473.56" cy="98.10" r="3.5" fill="#000"/>
<line x1="489.00" y1="103.45" x2="489.00" y2="120.53" stroke="#2a2a2a" stroke-width="0.95"/>
<circle cx="489.00" cy="111.66" r="3.5" fill="#000"/>
<line x1="504.44" y1="108.55" x2="504.44" y2="130.20" stroke="#2a2a2a" stroke-width="0.95"/>
<circle cx="504.44" cy="118.78" r="3.5" fill="#000"/>
<line x1="519.88" y1="122.15" x2="519.88" y2="173.91" stroke="#2a2a2a" stroke-width="0.95"/>
<circle cx="519.88" cy="143.10" r="3.5" fill="#000"/>
<line x1="581.64" y1="116.18" x2="581.64" y2="149.15" stroke="#2a2a2a" stroke-width="0.95"/>
<circle cx="581.64" cy="130.94" r="3.5" fill="#000"/>
<line x1="597.08" y1="122.15" x2="597.08" y2="173.91" stroke="#2a2a2a" stroke-width="0.95"/>
<circle cx="597.08" cy="143.10" r="3.5" fill="#000"/>
<line x1="612.52" y1="122.15" x2="612.52" y2="173.91" stroke="#2a2a2a" stroke-width="0.95"/>
<circle cx="612.52" cy="143.10" r="3.5" fill="#000"/>
<line x1="627.96" y1="122.15" x2="627.96" y2="173.91" stroke="#2a2a2a" stroke-width="0.95"/>
<circle cx="627.96" cy="143.10" r="3.5" fill="#000"/>
<line x1="643.40" y1="122.15" x2="643.40" y2="173.91" stroke="#2a2a2a" stroke-width="0.95"/>
<circle cx="643.40" cy="143.10" r="3.5" fill="#000"/>
<rect x="450.50" y="2.50" width="309.00" height="257.00" fill="none" stroke="#333" stroke-width="1.1"/>
<path d="M450.40,252.14 h5.60 M759.20,252.14 h-5.60 M450.40,245.02 h5.60 M759.20,245.02 h-5.60 M450.40,239.98 h5.60 M759.20,239.98 h-5.60 M450.40,236.06 h5.60 M759.20,236.06 h-5.60 M450.40,232.86 h5.60 M759.20,232.86 h-5.60 M450.40,230.16 h5.60 M759.20,230.16 h-5.60 M450.40,227.82 h5.60 M759.20,227.82 h-5.60 M450.40,225.75 h5.60 M759.20,225.75 h-5.60 M450.40,223.90 h11.20 M759.20,223.90 h-11.20 M450.40,211.74 h5.60 M759.20,211.74 h-5.60 M450.40,204.62 h5.60 M759.20,204.62 h-5.60 M450.40,199.58 h5.60 M759.20,199.58 h-5.60 M450.40,195.66 h5.60 M759.20,195.66 h-5.60 M450.40,192.46 h5.60 M759.20,192.46 h-5.60 M450.40,189.76 h5.60 M759.20,189.76 h-5.60 M450.40,187.42 h5.60 M759.20,187.42 h-5.60 M450.40,185.35 h5.60 M759.20,185.35 h-5.60 M450.40,183.50 h11.20 M759.20,183.50 h-11.20 M450.40,171.34 h5.60 M759.20,171.34 h-5.60 M450.40,164.22 h5.60 M759.20,164.22 h-5.60 M450.40,159.18 h5.60 M759.20,159.18 h-5.60 M450.40,155.26 h5.60 M759.20,155.26 h-5.60 M450.40,152.06 h5.60 M759.20,152.06 h-5.60 M450.40,149.36 h5.60 M759.20,149.36 h-5.60 M450.40,147.02 h5.60 M759.20,147.02 h-5.60 M450.40,144.95 h5.60 M759.20,144.95 h-5.60 M450.40,143.10 h11.20 M759.20,143.10 h-11.20 M450.40,130.94 h5.60 M759.20,130.94 h-5.60 M450.40,123.82 h5.60 M759.20,123.82 h-5.60 M450.40,118.78 h5.60 M759.20,118.78 h-5.60 M450.40,114.86 h5.60 M759.20,114.86 h-5.60 M450.40,111.66 h5.60 M759.20,111.66 h-5.60 M450.40,108.96 h5.60 M759.20,108.96 h-5.60 M450.40,106.62 h5.60 M759.20,106.62 h-5.60 M450.40,104.55 h5.60 M759.20,104.55 h-5.60 M450.40,102.70 h11.20 M759.20,102.70 h-11.20 M450.40,90.54 h5.60 M759.20,90.54 h-5.60 M450.40,83.42 h5.60 M759.20,83.42 h-5.60 M450.40,78.38 h5.60 M759.20,78.38 h-5.60 M450.40,74.46 h5.60 M759.20,74.46 h-5.60 M450.40,71.26 h5.60 M759.20,71.26 h-5.60 M450.40,68.56 h5.60 M759.20,68.56 h-5.60 M450.40,66.22 h5.60 M759.20,66.22 h-5.60 M450.40,64.15 h5.60 M759.20,64.15 h-5.60 M450.40,62.30 h11.20 M759.20,62.30 h-11.20 M450.40,50.14 h5.60 M759.20,50.14 h-5.60 M450.40,43.02 h5.60 M759.20,43.02 h-5.60 M450.40,37.98 h5.60 M759.20,37.98 h-5.60 M450.40,34.06 h5.60 M759.20,34.06 h-5.60 M450.40,30.86 h5.60 M759.20,30.86 h-5.60 M450.40,28.16 h5.60 M759.20,28.16 h-5.60 M450.40,25.82 h5.60 M759.20,25.82 h-5.60 M450.40,23.75 h5.60 M759.20,23.75 h-5.60 M450.40,21.90 h11.20 M759.20,21.90 h-11.20 M450.40,9.74 h5.60 M759.20,9.74 h-5.60 M450.40,2.62 h5.60 M759.20,2.62 h-5.60 M456.01,2.20 v2.90 M456.01,259.30 v-2.90 M456.01,264.60 v1.40 M456.01,341.50 v-1.40 M470.05,2.20 v6.30 M470.05,259.30 v-6.30 M470.05,264.60 v2.80 M470.05,341.50 v-2.80 M484.09,2.20 v2.90 M484.09,259.30 v-2.90 M484.09,264.60 v1.40 M484.09,341.50 v-1.40 M498.12,2.20 v2.90 M498.12,259.30 v-2.90 M498.12,264.60 v1.40 M498.12,341.50 v-1.40 M512.16,2.20 v2.90 M512.16,259.30 v-2.90 M512.16,264.60 v1.40 M512.16,341.50 v-1.40 M526.20,2.20 v6.30 M526.20,259.30 v-6.30 M526.20,264.60 v2.80 M526.20,341.50 v-2.80 M540.23,2.20 v2.90 M540.23,259.30 v-2.90 M540.23,264.60 v1.40 M540.23,341.50 v-1.40 M554.27,2.20 v2.90 M554.27,259.30 v-2.90 M554.27,264.60 v1.40 M554.27,341.50 v-1.40 M568.31,2.20 v2.90 M568.31,259.30 v-2.90 M568.31,264.60 v1.40 M568.31,341.50 v-1.40 M582.34,2.20 v6.30 M582.34,259.30 v-6.30 M582.34,264.60 v2.80 M582.34,341.50 v-2.80 M596.38,2.20 v2.90 M596.38,259.30 v-2.90 M596.38,264.60 v1.40 M596.38,341.50 v-1.40 M610.41,2.20 v2.90 M610.41,259.30 v-2.90 M610.41,264.60 v1.40 M610.41,341.50 v-1.40 M624.45,2.20 v2.90 M624.45,259.30 v-2.90 M624.45,264.60 v1.40 M624.45,341.50 v-1.40 M638.49,2.20 v6.30 M638.49,259.30 v-6.30 M638.49,264.60 v2.80 M638.49,341.50 v-2.80 M652.52,2.20 v2.90 M652.52,259.30 v-2.90 M652.52,264.60 v1.40 M652.52,341.50 v-1.40 M666.56,2.20 v2.90 M666.56,259.30 v-2.90 M666.56,264.60 v1.40 M666.56,341.50 v-1.40 M680.60,2.20 v2.90 M680.60,259.30 v-2.90 M680.60,264.60 v1.40 M680.60,341.50 v-1.40 M694.63,2.20 v6.30 M694.63,259.30 v-6.30 M694.63,264.60 v2.80 M694.63,341.50 v-2.80 M708.67,2.20 v2.90 M708.67,259.30 v-2.90 M708.67,264.60 v1.40 M708.67,341.50 v-1.40 M722.71,2.20 v2.90 M722.71,259.30 v-2.90 M722.71,264.60 v1.40 M722.71,341.50 v-1.40 M736.74,2.20 v2.90 M736.74,259.30 v-2.90 M736.74,264.60 v1.40 M736.74,341.50 v-1.40 M750.78,2.20 v6.30 M750.78,259.30 v-6.30 M750.78,264.60 v2.80 M750.78,341.50 v-2.80 M450.40,329.55 h4.20 M759.20,329.55 h-4.20 M450.40,317.50 h8.20 M759.20,317.50 h-8.20 M450.40,305.45 h4.20 M759.20,305.45 h-4.20 M450.40,293.40 h8.20 M759.20,293.40 h-8.20 M450.40,281.35 h4.20 M759.20,281.35 h-4.20 M450.40,269.30 h8.20 M759.20,269.30 h-8.20" stroke="#222" stroke-width="0.95" fill="none"/>
<g clip-path="url(#c450r)">
<path d="M450.40,310.51 L465.84,310.51 L465.84,310.03 L481.28,310.03 L481.28,310.03 L496.72,310.03 L496.72,310.99 L512.16,310.99 L512.16,311.23 L527.60,311.23 L527.60,311.48 L543.04,311.48 L543.04,312.20 L558.48,312.20 L558.48,310.99 L573.92,310.99 L573.92,311.48 L589.36,311.48 L589.36,311.23 L604.80,311.23 L604.80,310.51 L620.24,310.51 L620.24,310.51 L635.68,310.51 L635.68,311.72 L651.12,311.72 L651.12,311.72 L666.56,311.72 L666.56,312.68 L682.00,312.68 L682.00,310.27 L697.44,310.27 L697.44,311.72 L712.88,311.72 L712.88,310.27 L728.32,310.27 L728.32,308.34 L743.76,308.34 L743.76,307.86 L759.20,307.86 L759.20,327.14 L743.76,327.14 L743.76,326.66 L728.32,326.66 L728.32,324.73 L712.88,324.73 L712.88,323.28 L697.44,323.28 L697.44,324.73 L682.00,324.73 L682.00,322.32 L666.56,322.32 L666.56,323.28 L651.12,323.28 L651.12,323.28 L635.68,323.28 L635.68,324.49 L620.24,324.49 L620.24,324.49 L604.80,324.49 L604.80,323.77 L589.36,323.77 L589.36,323.53 L573.92,323.53 L573.92,324.01 L558.48,324.01 L558.48,322.80 L543.04,322.80 L543.04,323.53 L527.60,323.53 L527.60,323.77 L512.16,323.77 L512.16,324.01 L496.72,324.01 L496.72,324.97 L481.28,324.97 L481.28,324.97 L465.84,324.97 L465.84,324.49 L450.40,324.49 Z" fill="url(#hatchr)"/>
<line x1="450.40" y1="317.50" x2="759.20" y2="317.50" stroke="#222" stroke-width="0.85" stroke-dasharray="2.2,2.6"/>
<line x1="459.32" y1="297.86" x2="459.32" y2="339.31" stroke="#2a2a2a" stroke-width="0.95"/>
<circle cx="459.32" cy="328.35" r="3.5" fill="#000"/>
<line x1="474.76" y1="273.03" x2="474.76" y2="305.02" stroke="#2a2a2a" stroke-width="0.95"/>
<circle cx="474.76" cy="291.23" r="3.5" fill="#000"/>
<line x1="490.20" y1="288.86" x2="490.20" y2="321.68" stroke="#2a2a2a" stroke-width="0.95"/>
<circle cx="490.20" cy="308.58" r="3.5" fill="#000"/>
<line x1="505.64" y1="275.14" x2="505.64" y2="322.25" stroke="#2a2a2a" stroke-width="0.95"/>
<circle cx="505.64" cy="304.49" r="3.5" fill="#000"/>
<line x1="521.08" y1="284.35" x2="521.08" y2="338.60" stroke="#2a2a2a" stroke-width="0.95"/>
<circle cx="521.08" cy="324.25" r="3.5" fill="#000"/>
<line x1="582.84" y1="0.69" x2="582.84" y2="289.54" stroke="#2a2a2a" stroke-width="0.95"/>
<circle cx="582.84" cy="194.59" r="3.5" fill="#000"/>
<line x1="598.28" y1="-183.22" x2="598.28" y2="314.12" stroke="#2a2a2a" stroke-width="0.95"/>
<circle cx="598.28" cy="182.54" r="3.5" fill="#000"/>
<line x1="613.72" y1="-159.37" x2="613.72" y2="315.37" stroke="#2a2a2a" stroke-width="0.95"/>
<circle cx="613.72" cy="189.77" r="3.5" fill="#000"/>
<line x1="629.16" y1="-501.30" x2="629.16" y2="297.47" stroke="#2a2a2a" stroke-width="0.95"/>
<circle cx="629.16" cy="86.14" r="3.5" fill="#000"/>
<line x1="644.60" y1="-1248.77" x2="644.60" y2="258.33" stroke="#2a2a2a" stroke-width="0.95"/>
<circle cx="644.60" cy="-140.40" r="3.5" fill="#000"/>
</g>
<rect x="450.50" y="264.50" width="309.00" height="77.00" fill="none" stroke="#333" stroke-width="1.1"/>
<text x="445.90" y="28.70" text-anchor="end" font-size="13.6">10<tspan font-size="9" dy="-7">3</tspan></text>
<text x="445.90" y="69.10" text-anchor="end" font-size="13.6">10<tspan font-size="9" dy="-7">2</tspan></text>
<text x="445.90" y="107.80" text-anchor="end" font-size="13.6">10</text>
<text x="445.90" y="148.20" text-anchor="end" font-size="13.6">1</text>
<text x="445.90" y="190.30" text-anchor="end" font-size="13.6">10<tspan font-size="9" dy="-7">−1</tspan></text>
<text x="445.90" y="230.70" text-anchor="end" font-size="13.6">10<tspan font-size="9" dy="-7">−2</tspan></text>
<text x="445.90" y="348.10" text-anchor="end" font-size="13.6">0</text>
<text x="445.90" y="324.00" text-anchor="end" font-size="13.6">1</text>
<text x="445.90" y="299.90" text-anchor="end" font-size="13.6">2</text>
<text x="445.90" y="275.80" text-anchor="end" font-size="13.6">3</text>
<text x="470.05" y="356.00" text-anchor="middle" font-size="13.9">200</text>
<text x="526.20" y="356.00" text-anchor="middle" font-size="13.9">400</text>
<text x="582.34" y="356.00" text-anchor="middle" font-size="13.9">600</text>
<text x="638.49" y="356.00" text-anchor="middle" font-size="13.9">800</text>
<text x="694.63" y="356.00" text-anchor="middle" font-size="13.9">1000</text>
<text x="750.78" y="356.00" text-anchor="middle" font-size="13.9">1200</text>
<text x="700.20" y="370.2" font-size="13.4" font-style="italic">m</text>
<text x="711.80" y="374.3" font-size="8.8" font-style="italic" letter-spacing="0.9">4l</text>
<text x="759.40" y="370.4" text-anchor="end" font-size="13.6">[GeV]</text>
<text transform="translate(414.80,2.5) rotate(-90)" text-anchor="end" font-size="14.3">Events / 55 GeV</text>
<text transform="translate(406.80,302.3) rotate(-90)" text-anchor="middle" font-size="13">Data</text>
<line x1="409.40" y1="273.5" x2="409.40" y2="333" stroke="#000" stroke-width="1"/>
<text transform="translate(422.40,302.3) rotate(-90)" text-anchor="middle" font-size="13">Prediction</text>
<text x="467.60" y="21.6" font-size="14" font-weight="bold" font-style="italic" letter-spacing="0.75">ATLAS</text>
<text x="472.70" y="37.3" font-size="11" letter-spacing="0.42">s = 13 TeV, 36.1 fb<tspan font-size="7.5" dy="-4.5">-1</tspan></text>
<path d="M468.10,30.3 L469.50,30.3 L470.40,36.4 L469.90,37.9 Z" fill="#000"/>
<path d="M470.00,37.8 L471.70,27.4 L478.10,27.4" fill="none" stroke="#000" stroke-width="0.85"/>
<text x="467.70" y="53.6" font-size="11" font-style="italic">H</text>
<text x="493.60" y="53.6" font-size="11" font-style="italic">ZZ</text>
<path d="M479.60,50.3 h10.2 M487.40,48.3 l2.4,2 l-2.4,2" stroke="#000" stroke-width="0.85" fill="none"/>
<path d="M512.70,50.3 h10.2 M520.50,48.3 l2.4,2 l-2.4,2" stroke="#000" stroke-width="0.85" fill="none"/>
<text x="526.80" y="53.6" font-size="11" font-style="italic">l</text>
<text x="530.20" y="48.0" font-size="6.3">+</text>
<text x="535.20" y="53.6" font-size="11" font-style="italic">l</text>
<line x1="539.10" y1="45.4" x2="540.50" y2="45.4" stroke="#000" stroke-width="0.7"/>
<text x="541.20" y="53.6" font-size="11" font-style="italic">l</text>
<text x="544.60" y="48.0" font-size="6.3">+</text>
<text x="548.40" y="53.6" font-size="11" font-style="italic">l</text>
<line x1="552.30" y1="45.4" x2="553.70" y2="45.4" stroke="#000" stroke-width="0.7"/>
<text x="467.00" y="69.7" font-size="11">VBF-enriched</text>
<line x1="622.40" y1="12.80" x2="622.40" y2="22.80" stroke="#000" stroke-width="1"/>
<circle cx="622.40" cy="17.80" r="3.5" fill="#000"/>
<text x="637.70" y="21.40" font-size="10.2">Data</text>
<rect x="611.40" y="28.05" width="21.5" height="10.5" fill="#d80000" stroke="#000" stroke-width="0.6"/>
<text x="637.10" y="36.90" font-size="10.2" font-style="italic">ZZ</text>
<rect x="611.40" y="43.35" width="21.5" height="10.5" fill="#001487" stroke="#000" stroke-width="0.6"/>
<text x="637.10" y="52.20" font-size="10.2" font-style="italic">ZZ</text><text x="654.90" y="52.20" font-size="10.2">(EW)</text>
<rect x="611.40" y="58.55" width="21.5" height="10.5" fill="#eaff2d" stroke="#000" stroke-width="0.6"/>
<text x="638.30" y="67.40" font-size="10.2" font-style="italic">t</text><text x="641.90" y="67.40" font-size="10.2" font-style="italic">t</text><line x1="642.30" y1="58.20" x2="645.50" y2="58.20" stroke="#000" stroke-width="0.9"/><text x="645.90" y="67.40" font-size="10.2"><tspan font-size="11.5">+</tspan></text><text x="652.10" y="67.40" font-size="10.2" font-style="italic">V</text><text x="660.10" y="67.40" font-size="10.2">,</text><text x="666.70" y="67.40" font-size="10.2" font-style="italic">VVV</text>
<rect x="611.40" y="73.75" width="21.5" height="10.5" fill="#480042" stroke="#000" stroke-width="0.6"/>
<text x="637.90" y="82.60" font-size="10.2" font-style="italic">Z</text><text x="645.50" y="82.60" font-size="10.2"><tspan font-size="11.5">+</tspan></text><text x="651.70" y="82.60" font-size="10.2">jets</text><text x="667.30" y="82.60" font-size="10.2">,</text><text x="674.50" y="82.60" font-size="10.2" font-style="italic">t</text><text x="678.00" y="82.60" font-size="10.2" font-style="italic">t</text><line x1="678.40" y1="73.40" x2="681.60" y2="73.40" stroke="#000" stroke-width="0.9"/>
<rect x="611.40" y="88.95" width="21.5" height="10.5" fill="url(#hatch)" stroke="#000" stroke-width="0.9"/>
<text x="637.70" y="97.80" font-size="10.2">Uncertainty</text>
<rect x="611.40" y="104.25" width="21.5" height="10.5" fill="#c8fa78" stroke="#000" stroke-width="0.6"/>
<text x="637.70" y="113.10" font-size="10.2" letter-spacing="0.25">NWA signal</text><text x="695.20" y="113.10" font-size="8.2" letter-spacing="0.15">(<tspan font-style="italic">m</tspan><tspan font-size="6" dy="2" font-style="italic">H</tspan><tspan dy="-2">=600 GeV)</tspan></text>
<text x="637.70" y="125.1" font-size="8.7" letter-spacing="0.12">5 × obs. limit</text>
<text x="595.80" y="387.60" style="font-family:'Liberation Serif',serif;font-weight:bold" font-size="20.6">(</text>
<text x="603.60" y="387.60" style="font-family:'Liberation Serif',serif;font-weight:bold" font-size="19.5">b</text>
<text x="614.50" y="387.60" style="font-family:'Liberation Serif',serif;font-weight:bold" font-size="20.6">)</text>
</svg></body></html>
